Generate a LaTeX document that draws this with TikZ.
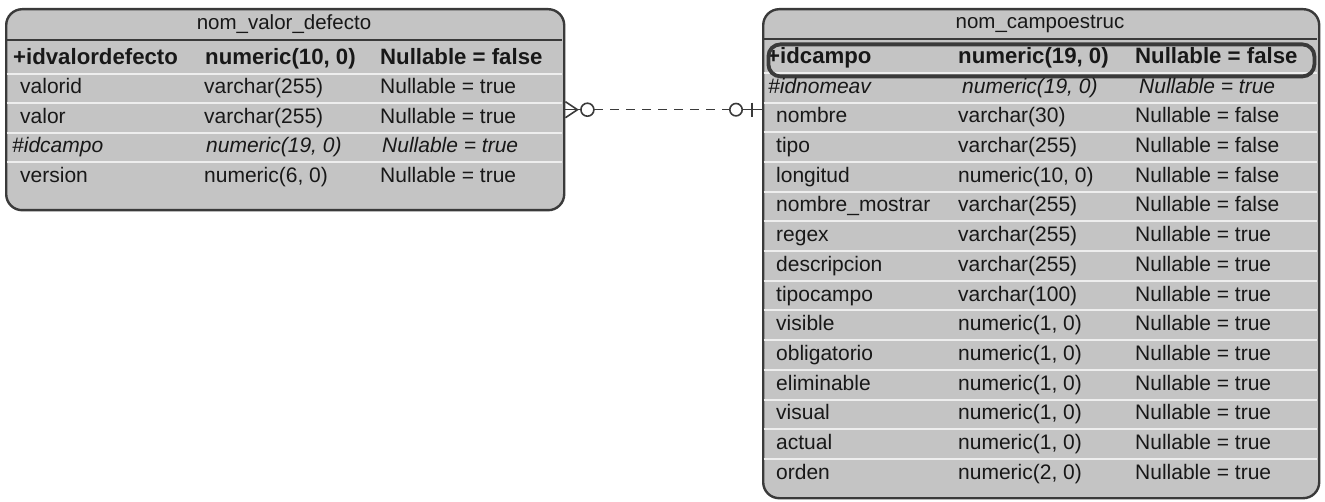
\documentclass[tikz,border=0pt]{standalone}
\usepackage{fontspec}
\setmainfont{Liberation Sans}
\usetikzlibrary{calc}
\definecolor{tblgray}{RGB}{196,196,196}
\definecolor{tblline}{RGB}{58,58,58}
\definecolor{rowsep}{RGB}{238,238,238}
\definecolor{txt}{RGB}{24,24,24}
\begin{document}
\begin{tikzpicture}[x=1pt,y=-1pt,
  tablebox/.style={fill=tblgray, draw=tblline, line width=2.4pt, rounded corners=16pt,
    inner sep=0pt, anchor=north west},
  titlesep/.style={draw=tblline, line width=2pt},
  whitesep/.style={draw=rowsep, line width=2pt},
  cell/.style={anchor=base west, inner sep=0pt, text=txt, font=\fontsize{21}{24}\selectfont},
  title/.style={anchor=base, inner sep=0pt, text=txt, font=\fontsize{20.5}{24}\selectfont},
  pkcell/.style={cell, font=\fontsize{22.2}{24}\selectfont\bfseries},
  fkcell/.style={cell, font=\fontsize{21}{24}\selectfont\itshape},
  selbox/.style={draw=tblline, line width=3.8pt, rounded corners=12pt, inner sep=0pt,
    anchor=north west},
  rel/.style={draw=tblline, line width=1.6pt},
]
\useasboundingbox (0,0) rectangle (1325,502);

% ---------- table nom_valor_defecto ----------
\node[tablebox, minimum width=558pt, minimum height=201pt] (lt) at (5,8) {};
\draw[titlesep] (6,40) -- (562,40);
\foreach \s in {73.75,103.25,132.75,162.25}
  \draw[whitesep] (6.5,\s) -- (561.5,\s);
\node[title] (lt-title) at (284,30) {nom\_valor\_defecto};
\node[pkcell] (lt-n0) at (13,65) {+idvalordefecto};
\node[pkcell] (lt-t0) at (205,65) {numeric(10, 0)};
\node[pkcell] (lt-u0) at (380,65) {Nullable = false};
\foreach \r/\n/\t in {1/valorid/varchar(255), 2/valor/varchar(255), 4/version/{numeric(6, 0)}} {
  \node[cell] (lt-n\r) at (20,{59+29.5*\r+5.5}) {\n};
  \node[cell] (lt-t\r) at (204,{59+29.5*\r+5.5}) {\t};
  \node[cell] (lt-u\r) at (380,{59+29.5*\r+5.5}) {Nullable = true};
}
\node[fkcell] (lt-n3) at (12,153) {\#idcampo};
\node[fkcell] (lt-t3) at (206,153) {numeric(19, 0)};
\node[fkcell] (lt-u3) at (382,153) {Nullable = true};

% ---------- table nom_campoestruc ----------
\node[tablebox, minimum width=556pt, minimum height=489pt] (rt) at (762,8) {};
\draw[titlesep] (763,39) -- (1317,39);
\foreach \i in {0,...,13}
  \draw[whitesep] (763.5,{58+29.7*\i+14.85}) -- (1316.5,{58+29.7*\i+14.85});
\node[title] (rt-title) at (1040,29) {nom\_campoestruc};
\node[pkcell] (rt-n0) at (767,64) {+idcampo};
\node[pkcell] (rt-t0) at (958,64) {numeric(19, 0)};
\node[pkcell] (rt-u0) at (1135,64) {Nullable = false};
\node[selbox, minimum width=546pt, minimum height=32pt] (rt-sel) at (766.5,42.5) {};
\node[fkcell] (rt-n1) at (768,{58+29.7+5.5}) {\#idnomeav};
\node[fkcell] (rt-t1) at (962,{58+29.7+5.5}) {numeric(19, 0)};
\node[fkcell] (rt-u1) at (1139,{58+29.7+5.5}) {Nullable = true};
\foreach \r/\n/\t/\u in {
    2/nombre/varchar(30)/false,
    3/tipo/varchar(255)/false,
    4/longitud/{numeric(10, 0)}/false,
    5/nombre\_mostrar/varchar(255)/false,
    6/regex/varchar(255)/true,
    7/descripcion/varchar(255)/true,
    8/tipocampo/varchar(100)/true,
    9/visible/{numeric(1, 0)}/true,
    10/obligatorio/{numeric(1, 0)}/true,
    11/eliminable/{numeric(1, 0)}/true,
    12/visual/{numeric(1, 0)}/true,
    13/actual/{numeric(1, 0)}/true,
    14/orden/{numeric(2, 0)}/true} {
  \node[cell] (rt-n\r) at (776,{58+29.7*\r+5.5}) {\n};
  \node[cell] (rt-t\r) at (958,{58+29.7*\r+5.5}) {\t};
  \node[cell] (rt-u\r) at (1135,{58+29.7*\r+5.5}) {Nullable = \u};
}

% ---------- relationship: many (optional) to one (optional) ----------
\coordinate (fkL) at (lt.east);
\coordinate (fkR) at (rt.west |- lt.east);
\draw[rel] ($(fkL)+(0,-8)$) -- ($(fkL)+(12,0)$) -- ($(fkL)+(0,8)$);
\draw[rel] (fkL) -- ($(fkL)+(15,0)$);
\draw[rel] ($(fkL)+(22,0)$) circle[radius=6.5pt];
\draw[rel, dash pattern=on 9pt off 7pt] ($(fkL)+(29,0)$) -- ($(fkR)+(-32,0)$);
\draw[rel] ($(fkR)+(-26,0)$) circle[radius=6.2pt];
\draw[rel] ($(fkR)+(-19.8,0)$) -- (fkR);
\draw[rel] ($(fkR)+(-10,-7)$) -- ($(fkR)+(-10,7)$);
\end{tikzpicture}
\end{document}
